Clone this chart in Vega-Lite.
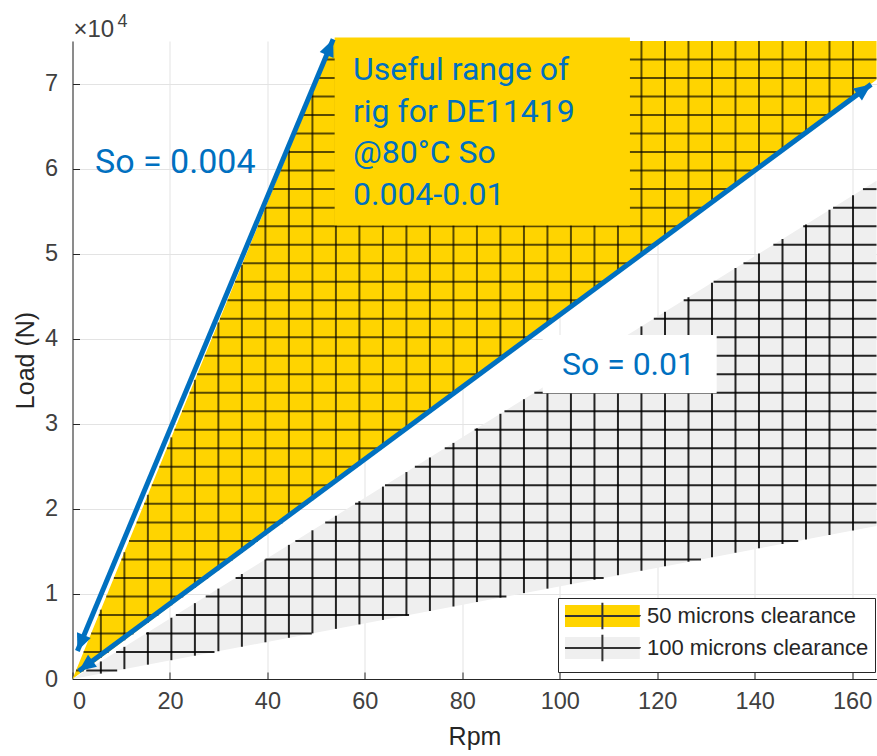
{
  "$schema": "https://vega.github.io/schema/vega-lite/v6.json",
  "width": 804,
  "height": 638,
  "autosize": {"type": "none"},
  "padding": {"left": 72.5, "top": 41, "right": 0, "bottom": 77},
  "background": "white",
  "config": {
    "view": {"stroke": null},
    "font": "Liberation Sans",
    "axis": {
      "domainColor": "#262626", "domainWidth": 1,
      "tickColor": "#262626", "tickSize": -7, "tickWidth": 1,
      "gridColor": "#e3e3e3", "gridWidth": 1,
      "labelFont": "Liberation Sans", "labelFontSize": 23.5, "labelColor": "#404040",
      "titleFont": "Liberation Sans", "titleFontSize": 25, "titleFontWeight": "normal", "titleColor": "#262626"
    }
  },
  "datasets": {
    "fills": [
      {"region": "50 microns clearance", "rpm": 0, "load": 0, "load2": 0},
      {"region": "50 microns clearance", "rpm": 53.57, "load": 22875, "load2": 75000},
      {"region": "50 microns clearance", "rpm": 165, "load": 70455, "load2": 75000},
      {"region": "100 microns clearance", "rpm": 0, "load": 0, "load2": 0},
      {"region": "100 microns clearance", "rpm": 165, "load": 17985, "load2": 58575}
    ],
    "hatch": [
      {"r":"y","rpm":5.82,"rpm2":5.82,"load":2485,"load2":8148},
      {"r":"y","rpm":10.65,"rpm2":10.65,"load":4548,"load2":14910},
      {"r":"y","rpm":15.47,"rpm2":15.47,"load":6606,"load2":21658},
      {"r":"y","rpm":20.29,"rpm2":20.29,"load":8664,"load2":28406},
      {"r":"y","rpm":25.12,"rpm2":25.12,"load":10726,"load2":35168},
      {"r":"y","rpm":29.94,"rpm2":29.94,"load":12784,"load2":41916},
      {"r":"y","rpm":34.76,"rpm2":34.76,"load":14843,"load2":48664},
      {"r":"y","rpm":39.59,"rpm2":39.59,"load":16905,"load2":55426},
      {"r":"y","rpm":44.41,"rpm2":44.41,"load":18963,"load2":62174},
      {"r":"y","rpm":49.24,"rpm2":49.24,"load":21025,"load2":68936},
      {"r":"y","rpm":54.06,"rpm2":54.06,"load":23084,"load2":75000},
      {"r":"y","rpm":58.88,"rpm2":58.88,"load":25142,"load2":75000},
      {"r":"y","rpm":63.71,"rpm2":63.71,"load":27204,"load2":75000},
      {"r":"y","rpm":68.53,"rpm2":68.53,"load":29262,"load2":75000},
      {"r":"y","rpm":73.35,"rpm2":73.35,"load":31320,"load2":75000},
      {"r":"y","rpm":78.18,"rpm2":78.18,"load":33383,"load2":75000},
      {"r":"y","rpm":83.0,"rpm2":83.0,"load":35441,"load2":75000},
      {"r":"y","rpm":87.82,"rpm2":87.82,"load":37499,"load2":75000},
      {"r":"y","rpm":92.65,"rpm2":92.65,"load":39562,"load2":75000},
      {"r":"y","rpm":97.47,"rpm2":97.47,"load":41620,"load2":75000},
      {"r":"y","rpm":102.29,"rpm2":102.29,"load":43678,"load2":75000},
      {"r":"y","rpm":107.12,"rpm2":107.12,"load":45740,"load2":75000},
      {"r":"y","rpm":111.94,"rpm2":111.94,"load":47798,"load2":75000},
      {"r":"y","rpm":116.76,"rpm2":116.76,"load":49857,"load2":75000},
      {"r":"y","rpm":121.59,"rpm2":121.59,"load":51919,"load2":75000},
      {"r":"y","rpm":126.41,"rpm2":126.41,"load":53977,"load2":75000},
      {"r":"y","rpm":131.24,"rpm2":131.24,"load":56039,"load2":75000},
      {"r":"y","rpm":136.06,"rpm2":136.06,"load":58098,"load2":75000},
      {"r":"y","rpm":140.88,"rpm2":140.88,"load":60156,"load2":75000},
      {"r":"y","rpm":145.71,"rpm2":145.71,"load":62218,"load2":75000},
      {"r":"y","rpm":150.53,"rpm2":150.53,"load":64276,"load2":75000},
      {"r":"y","rpm":155.35,"rpm2":155.35,"load":66334,"load2":75000},
      {"r":"y","rpm":160.18,"rpm2":160.18,"load":68397,"load2":75000},
      {"r":"y","rpm":0.71,"rpm2":2.34,"load":1000,"load2":1000},
      {"r":"y","rpm":2.27,"rpm2":7.44,"load":3176,"load2":3176},
      {"r":"y","rpm":3.82,"rpm2":12.54,"load":5353,"load2":5353},
      {"r":"y","rpm":5.38,"rpm2":17.63,"load":7529,"load2":7529},
      {"r":"y","rpm":6.93,"rpm2":22.73,"load":9706,"load2":9706},
      {"r":"y","rpm":8.49,"rpm2":27.83,"load":11882,"load2":11882},
      {"r":"y","rpm":10.04,"rpm2":32.93,"load":14059,"load2":14059},
      {"r":"y","rpm":11.6,"rpm2":38.02,"load":16235,"load2":16235},
      {"r":"y","rpm":13.15,"rpm2":43.12,"load":18412,"load2":18412},
      {"r":"y","rpm":14.71,"rpm2":48.22,"load":20588,"load2":20588},
      {"r":"y","rpm":16.26,"rpm2":53.31,"load":22765,"load2":22765},
      {"r":"y","rpm":17.82,"rpm2":58.41,"load":24941,"load2":24941},
      {"r":"y","rpm":19.37,"rpm2":63.51,"load":27118,"load2":27118},
      {"r":"y","rpm":20.92,"rpm2":68.6,"load":29294,"load2":29294},
      {"r":"y","rpm":22.48,"rpm2":73.7,"load":31471,"load2":31471},
      {"r":"y","rpm":24.03,"rpm2":78.8,"load":33647,"load2":33647},
      {"r":"y","rpm":25.59,"rpm2":83.9,"load":35824,"load2":35824},
      {"r":"y","rpm":27.14,"rpm2":88.99,"load":38000,"load2":38000},
      {"r":"y","rpm":28.7,"rpm2":94.09,"load":40176,"load2":40176},
      {"r":"y","rpm":30.25,"rpm2":99.19,"load":42353,"load2":42353},
      {"r":"y","rpm":31.81,"rpm2":104.28,"load":44529,"load2":44529},
      {"r":"y","rpm":33.36,"rpm2":109.38,"load":46706,"load2":46706},
      {"r":"y","rpm":34.92,"rpm2":114.48,"load":48882,"load2":48882},
      {"r":"y","rpm":36.47,"rpm2":119.58,"load":51059,"load2":51059},
      {"r":"y","rpm":38.03,"rpm2":124.67,"load":53235,"load2":53235},
      {"r":"y","rpm":39.58,"rpm2":129.77,"load":55412,"load2":55412},
      {"r":"y","rpm":41.13,"rpm2":134.87,"load":57588,"load2":57588},
      {"r":"y","rpm":42.69,"rpm2":139.96,"load":59765,"load2":59765},
      {"r":"y","rpm":44.24,"rpm2":145.06,"load":61941,"load2":61941},
      {"r":"y","rpm":45.8,"rpm2":150.16,"load":64118,"load2":64118},
      {"r":"y","rpm":47.35,"rpm2":155.26,"load":66294,"load2":66294},
      {"r":"y","rpm":48.91,"rpm2":160.35,"load":68471,"load2":68471},
      {"r":"y","rpm":50.46,"rpm2":165,"load":70647,"load2":70647},
      {"r":"y","rpm":52.02,"rpm2":165,"load":72824,"load2":72824},
      {"r":"g","rpm":5.82,"rpm2":5.82,"load":634,"load2":2066},
      {"r":"g","rpm":10.65,"rpm2":10.65,"load":1161,"load2":3781},
      {"r":"g","rpm":15.47,"rpm2":15.47,"load":1686,"load2":5492},
      {"r":"g","rpm":20.29,"rpm2":20.29,"load":2212,"load2":7203},
      {"r":"g","rpm":25.12,"rpm2":25.12,"load":2738,"load2":8918},
      {"r":"g","rpm":29.94,"rpm2":29.94,"load":3263,"load2":10629},
      {"r":"g","rpm":34.76,"rpm2":34.76,"load":3789,"load2":12340},
      {"r":"g","rpm":39.59,"rpm2":39.59,"load":4315,"load2":14054},
      {"r":"g","rpm":44.41,"rpm2":44.41,"load":4841,"load2":15766},
      {"r":"g","rpm":49.24,"rpm2":49.24,"load":5367,"load2":17480},
      {"r":"g","rpm":54.06,"rpm2":54.06,"load":5893,"load2":19191},
      {"r":"g","rpm":58.88,"rpm2":58.88,"load":6418,"load2":20902},
      {"r":"g","rpm":63.71,"rpm2":63.71,"load":6944,"load2":22617},
      {"r":"g","rpm":68.53,"rpm2":68.53,"load":7470,"load2":24328},
      {"r":"g","rpm":73.35,"rpm2":73.35,"load":7995,"load2":26039},
      {"r":"g","rpm":78.18,"rpm2":78.18,"load":8522,"load2":27754},
      {"r":"g","rpm":83.0,"rpm2":83.0,"load":9047,"load2":29465},
      {"r":"g","rpm":87.82,"rpm2":87.82,"load":9572,"load2":31176},
      {"r":"g","rpm":92.65,"rpm2":92.65,"load":10099,"load2":32891},
      {"r":"g","rpm":97.47,"rpm2":97.47,"load":10624,"load2":34602},
      {"r":"g","rpm":102.29,"rpm2":102.29,"load":11150,"load2":36313},
      {"r":"g","rpm":107.12,"rpm2":107.12,"load":11676,"load2":38028},
      {"r":"g","rpm":111.94,"rpm2":111.94,"load":12201,"load2":39739},
      {"r":"g","rpm":116.76,"rpm2":116.76,"load":12727,"load2":41450},
      {"r":"g","rpm":121.59,"rpm2":121.59,"load":13253,"load2":43164},
      {"r":"g","rpm":126.41,"rpm2":126.41,"load":13779,"load2":44876},
      {"r":"g","rpm":131.24,"rpm2":131.24,"load":14305,"load2":46590},
      {"r":"g","rpm":136.06,"rpm2":136.06,"load":14831,"load2":48301},
      {"r":"g","rpm":140.88,"rpm2":140.88,"load":15356,"load2":50012},
      {"r":"g","rpm":145.71,"rpm2":145.71,"load":15882,"load2":51727},
      {"r":"g","rpm":150.53,"rpm2":150.53,"load":16408,"load2":53438},
      {"r":"g","rpm":155.35,"rpm2":155.35,"load":16933,"load2":55149},
      {"r":"g","rpm":160.18,"rpm2":160.18,"load":17460,"load2":56864},
      {"r":"g","rpm":2.82,"rpm2":9.17,"load":1000,"load2":1000},
      {"r":"g","rpm":8.95,"rpm2":29.14,"load":3176,"load2":3176},
      {"r":"g","rpm":15.08,"rpm2":49.11,"load":5353,"load2":5353},
      {"r":"g","rpm":21.21,"rpm2":69.07,"load":7529,"load2":7529},
      {"r":"g","rpm":27.34,"rpm2":89.05,"load":9706,"load2":9706},
      {"r":"g","rpm":33.47,"rpm2":109.01,"load":11882,"load2":11882},
      {"r":"g","rpm":39.6,"rpm2":128.98,"load":14059,"load2":14059},
      {"r":"g","rpm":45.73,"rpm2":148.94,"load":16235,"load2":16235},
      {"r":"g","rpm":51.86,"rpm2":165,"load":18412,"load2":18412},
      {"r":"g","rpm":57.99,"rpm2":165,"load":20588,"load2":20588},
      {"r":"g","rpm":64.13,"rpm2":165,"load":22765,"load2":22765},
      {"r":"g","rpm":70.26,"rpm2":165,"load":24941,"load2":24941},
      {"r":"g","rpm":76.39,"rpm2":165,"load":27118,"load2":27118},
      {"r":"g","rpm":82.52,"rpm2":165,"load":29294,"load2":29294},
      {"r":"g","rpm":88.65,"rpm2":165,"load":31471,"load2":31471},
      {"r":"g","rpm":94.78,"rpm2":165,"load":33647,"load2":33647},
      {"r":"g","rpm":100.91,"rpm2":165,"load":35824,"load2":35824},
      {"r":"g","rpm":107.04,"rpm2":165,"load":38000,"load2":38000},
      {"r":"g","rpm":113.17,"rpm2":165,"load":40176,"load2":40176},
      {"r":"g","rpm":119.3,"rpm2":165,"load":42353,"load2":42353},
      {"r":"g","rpm":125.43,"rpm2":165,"load":44529,"load2":44529},
      {"r":"g","rpm":131.57,"rpm2":165,"load":46706,"load2":46706},
      {"r":"g","rpm":137.7,"rpm2":165,"load":48882,"load2":48882},
      {"r":"g","rpm":143.83,"rpm2":165,"load":51059,"load2":51059},
      {"r":"g","rpm":149.96,"rpm2":165,"load":53235,"load2":53235},
      {"r":"g","rpm":156.09,"rpm2":165,"load":55412,"load2":55412},
      {"r":"g","rpm":162.22,"rpm2":165,"load":57588,"load2":57588}
    ],
    "boxes": [
      {"box": "info", "rpm": 53.8, "rpm2": 114.4, "load": 53300, "load2": 75400},
      {"box": "so01", "rpm": 96.5, "rpm2": 132.2, "load": 33600, "load2": 40450}
    ],
    "arrows": [
      {"a": "so004", "end": "low", "rpm": 1.0, "load": 3300},
      {"a": "so004", "end": "high", "rpm": 53.5, "load": 75200},
      {"a": "so01", "end": "low", "rpm": 1.3, "load": 950},
      {"a": "so01", "end": "high", "rpm": 163.9, "load": 69900}
    ],
    "labels": [
      {"id": "so004", "rpm": 4.62, "load": 59450, "text": "So = 0.004"},
      {"id": "so01", "rpm": 114.1, "load": 35740, "text": "So = 0.01"},
      {"id": "info", "rpm": 57.56, "load": 70410, "text": "Useful range of\nrig for DE11419\n@80°C So\n0.004-0.01"},
      {"id": "exp", "rpm": 0, "load": 75000, "text": "×10"},
      {"id": "exp4", "rpm": 0, "load": 75000, "text": "4"}
    ]
  },
  "encoding": {
    "x": {
      "field": "rpm", "type": "quantitative",
      "scale": {"domain": [0, 165], "nice": false, "zero": false},
      "axis": {"title": "Rpm", "values": [0, 20, 40, 60, 80, 100, 120, 140, 160], "labelPadding": 17, "titlePadding": 12, "grid": true}
    },
    "y": {
      "field": "load", "type": "quantitative",
      "scale": {"domain": [0, 75000], "nice": false, "zero": false},
      "axis": {"title": "Load (N)", "values": [0, 10000, 20000, 30000, 40000, 50000, 60000, 70000], "labelExpr": "datum.value / 10000", "labelPadding": 22, "titlePadding": 6, "grid": true}
    }
  },
  "layer": [
    {
      "data": {"name": "fills"},
      "mark": {"type": "area", "interpolate": "linear"},
      "encoding": {
        "y2": {"field": "load2"},
        "fill": {
          "field": "region", "type": "nominal",
          "scale": {"domain": ["50 microns clearance", "100 microns clearance"], "range": ["#FFD400", "#EFEFEF"]},
          "legend": {
            "title": null, "orient": "none", "legendX": 485.5, "legendY": 557,
            "symbolType": "M-1,0H5.8V1H-1V-1H5.8V0Z M2.4,-1.2V1.2",
            "symbolSize": 484, "symbolStrokeColor": "#333333", "symbolStrokeWidth": 2,
            "symbolDash": [75, 1000], "symbolOpacity": 1,
            "labelFontSize": 22, "labelColor": "#262626", "labelFont": "Liberation Sans", "labelOffset": 59, "labelLimit": 0,
            "strokeColor": "#262626", "fillColor": "white", "padding": 6, "rowPadding": -4
          }
        }
      }
    },
    {
      "data": {"name": "hatch"},
      "transform": [{"filter": "datum.r == 'g'"}],
      "mark": {"type": "rule", "stroke": "#000000", "strokeWidth": 2, "strokeOpacity": 0.85},
      "encoding": {"x2": {"field": "rpm2"}, "y2": {"field": "load2"}}
    },
    {
      "data": {"name": "hatch"},
      "transform": [{"filter": "datum.r == 'y'"}],
      "mark": {"type": "rule", "stroke": "#000000", "strokeWidth": 2, "strokeOpacity": 0.65},
      "encoding": {"x2": {"field": "rpm2"}, "y2": {"field": "load2"}}
    },
    {
      "data": {"name": "boxes"},
      "transform": [{"filter": "datum.box == 'info'"}],
      "mark": {"type": "rect", "fill": "#FFD400"},
      "encoding": {"x2": {"field": "rpm2"}, "y2": {"field": "load2"}}
    },
    {
      "data": {"name": "boxes"},
      "transform": [{"filter": "datum.box == 'so01'"}],
      "mark": {"type": "rect", "fill": "#FFFFFF"},
      "encoding": {"x2": {"field": "rpm2"}, "y2": {"field": "load2"}}
    },
    {
      "data": {"name": "arrows"},
      "mark": {"type": "line", "stroke": "#0070C0", "strokeWidth": 5, "clip": false},
      "encoding": {"detail": {"field": "a"}}
    },
    {
      "data": {"name": "arrows"},
      "transform": [{"filter": "datum.a == 'so004' && datum.end == 'high'"}],
      "mark": {"type": "point", "shape": "M0,0L0.75,1.7L-0.75,1.7Z", "size": 400, "filled": true, "fill": "#0070C0", "opacity": 1, "angle": 22.6},
      "encoding": {}
    },
    {
      "data": {"name": "arrows"},
      "transform": [{"filter": "datum.a == 'so004' && datum.end == 'low'"}],
      "mark": {"type": "point", "shape": "M0,0L0.75,1.7L-0.75,1.7Z", "size": 400, "filled": true, "fill": "#0070C0", "opacity": 1, "angle": 202.6},
      "encoding": {}
    },
    {
      "data": {"name": "arrows"},
      "transform": [{"filter": "datum.a == 'so01' && datum.end == 'high'"}],
      "mark": {"type": "point", "shape": "M0,0L0.75,1.7L-0.75,1.7Z", "size": 400, "filled": true, "fill": "#0070C0", "opacity": 1, "angle": 53.5},
      "encoding": {}
    },
    {
      "data": {"name": "arrows"},
      "transform": [{"filter": "datum.a == 'so01' && datum.end == 'low'"}],
      "mark": {"type": "point", "shape": "M0,0L0.75,1.7L-0.75,1.7Z", "size": 400, "filled": true, "fill": "#0070C0", "opacity": 1, "angle": 233.5},
      "encoding": {}
    },
    {
      "data": {"name": "labels"},
      "transform": [{"filter": "datum.id == 'so004'"}],
      "mark": {"type": "text", "font": "Roboto", "fontSize": 34, "fill": "#0070C0", "align": "left", "baseline": "alphabetic"},
      "encoding": {"text": {"field": "text"}}
    },
    {
      "data": {"name": "labels"},
      "transform": [{"filter": "datum.id == 'so01'"}],
      "mark": {"type": "text", "font": "Roboto", "fontSize": 32, "fill": "#0070C0", "align": "center", "baseline": "alphabetic"},
      "encoding": {"text": {"field": "text"}}
    },
    {
      "data": {"name": "labels"},
      "transform": [{"filter": "datum.id == 'info'"}],
      "mark": {"type": "text", "font": "Roboto", "fontSize": 32, "fill": "#0070C0", "align": "left", "baseline": "alphabetic", "lineBreak": "\n", "lineHeight": 41.7},
      "encoding": {"text": {"field": "text"}}
    },
    {
      "data": {"name": "labels"},
      "transform": [{"filter": "datum.id == 'exp'"}],
      "mark": {"type": "text", "font": "Liberation Sans", "fontSize": 24, "fill": "#404040", "align": "left", "baseline": "alphabetic", "dx": 1, "dy": -4, "clip": false},
      "encoding": {"text": {"field": "text"}}
    },
    {
      "data": {"name": "labels"},
      "transform": [{"filter": "datum.id == 'exp4'"}],
      "mark": {"type": "text", "font": "Liberation Sans", "fontSize": 18, "fill": "#404040", "align": "left", "baseline": "alphabetic", "dx": 45, "dy": -14, "clip": false},
      "encoding": {"text": {"field": "text"}}
    }
  ]
}
